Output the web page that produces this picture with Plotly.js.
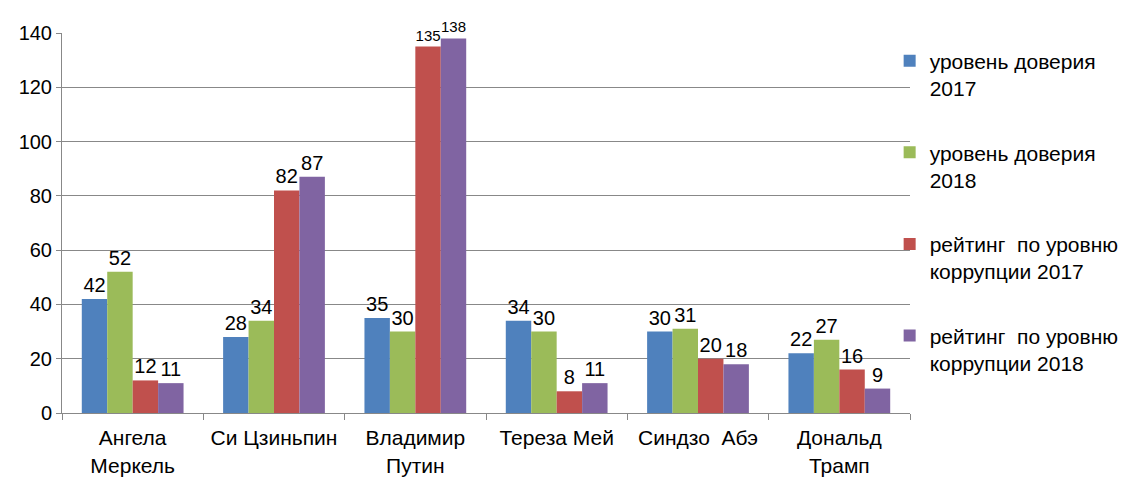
<!DOCTYPE html>
<html>
<head>
<meta charset="utf-8">
<script src="https://cdn.plot.ly/plotly-3.0.1.min.js"></script>
<style>html,body{margin:0;padding:0;background:#fff;}#chart{width:1131px;height:479px;}</style>
</head>
<body>
<div id="chart"></div>
<script>
const categories = ["Ангела<br>Меркель", "Си Цзиньпин", "Владимир<br>Путин", "Тереза Мей", "Синдзо  Абэ", "Дональд<br>Трамп"];
const seriesNames = ["уровень доверия<br>2017", "уровень доверия<br>2018", "рейтинг  по уровню<br>коррупции 2017", "рейтинг  по уровню<br>коррупции 2018"];
const trust2017 = [42, 28, 35, 34, 30, 22];
const trust2018 = [52, 34, 30, 30, 31, 27];
const corruption2017 = [12, 82, 135, 8, 20, 16];
const corruption2018 = [11, 87, 138, 11, 18, 9];
const colors = ["#4F81BD", "#9BBB59", "#C0504D", "#8064A2"];
const yTicks = [0, 20, 40, 60, 80, 100, 120, 140];

const seriesValues = [trust2017, trust2018, corruption2017, corruption2018];
const FONT = "'Liberation Sans', Arial, sans-serif";
const traces = seriesValues.map((vals, i) => ({
  type: "bar",
  name: seriesNames[i],
  x: categories,
  y: vals,
  text: vals.map(String),
  textposition: "outside",
  constraintext: "none",
  cliponaxis: false,
  textfont: {family: FONT, size: vals.map(v => String(v).length > 2 ? 15 : 20), color: "#000"},
  marker: {color: colors[i]},
  legendgroup: "g" + i,
  hoverinfo: "x+y"
}));

const layout = {
  width: 1131, height: 479,
  margin: {l: 62, r: 221, t: 33, b: 66, autoexpand: false},
  paper_bgcolor: "#fff", plot_bgcolor: "#fff",
  barmode: "group",
  bargap: 0.28,
  bargroupgap: 0,
  font: {family: FONT, size: 21, color: "#000"},
  showlegend: true,
  legend: {
    x: 0.976, xanchor: "left", y: 0.98, yanchor: "top",
    bgcolor: "rgba(0,0,0,0)",
    font: {family: FONT, size: 21, color: "#000"},
    traceorder: "grouped",
    tracegroupgap: 34,
    valign: "top",
    itemwidth: 30
  },
  xaxis: {
    type: "category",
    showline: true, linecolor: "#888", linewidth: 1,
    ticks: "outside", tickson: "boundaries", ticklen: 6, tickcolor: "#888",
    tickfont: {family: FONT, size: 21, color: "#000"},
    ticklabelstandoff: 6,
    showgrid: false
  },
  yaxis: {
    range: [0, 140],
    tickvals: yTicks,
    ticktext: yTicks.map(String),
    showgrid: true, gridcolor: "#888", gridwidth: 1,
    showline: true, linecolor: "#888", linewidth: 1,
    ticks: "outside", ticklen: 5, tickcolor: "#888",
    tickfont: {family: FONT, size: 20, color: "#000"},
    zeroline: false
  }
};

Plotly.newPlot("chart", traces, layout, {displayModeBar: false, staticPlot: true});
</script>
</body>
</html>
